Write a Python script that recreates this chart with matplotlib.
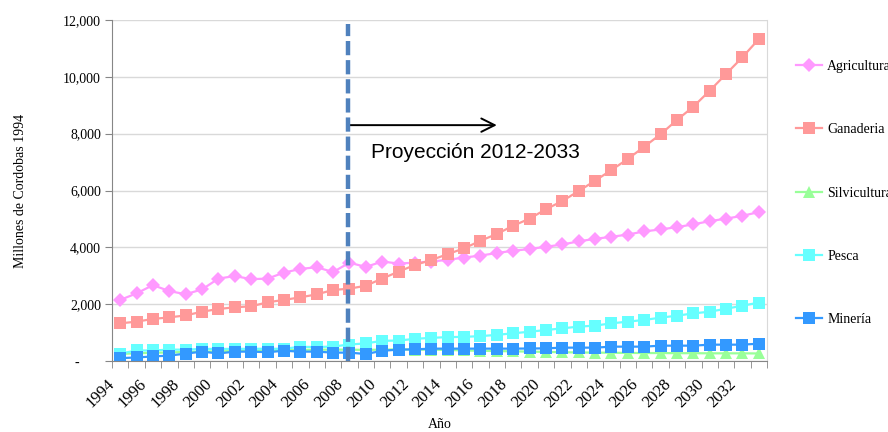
import numpy as np
import matplotlib
matplotlib.use("Agg")
import matplotlib.pyplot as plt
from matplotlib.ticker import FuncFormatter, FixedLocator, NullLocator
from matplotlib.transforms import ScaledTranslation

# data (millones de cordobas 1994)
years = list(range(1994, 2034))

agricultura = [2150, 2380, 2670, 2460, 2350, 2520, 2900, 2990, 2880, 2900,
               3110, 3240, 3300, 3130, 3460, 3310, 3500, 3430, 3460, 3500,
               3560, 3640, 3710, 3800, 3880, 3940, 4020, 4100, 4210, 4300,
               4370, 4450, 4560, 4630, 4710, 4810, 4920, 5010, 5110, 5240]

ganaderia = [1325, 1385, 1480, 1535, 1605, 1735, 1830, 1890, 1925, 2065,
             2150, 2240, 2345, 2500, 2545, 2650, 2900, 3145, 3380, 3555,
             3760, 3965, 4230, 4470, 4760, 5010, 5340, 5630, 5980, 6345,
             6720, 7110, 7540, 7980, 8480, 8950, 9510, 10100, 10690, 11330]

silvicultura = [250, 270, 290, 300, 320, 330, 340, 350, 360, 370,
                380, 390, 400, 400, 400, 390, 400, 410, 400, 400,
                390, 370, 360, 350, 340, 330, 320, 310, 300, 295,
                290, 285, 280, 280, 275, 275, 270, 270, 270, 265]

pesca = [260, 370, 370, 400, 400, 425, 425, 425, 430, 430,
         430, 500, 490, 510, 580, 620, 710, 720, 780, 815,
         840, 850, 875, 920, 975, 1030, 1090, 1150, 1210, 1245,
         1325, 1385, 1445, 1525, 1595, 1675, 1735, 1840, 1945, 2055]

mineria = [100, 125, 160, 190, 260, 330, 265, 330, 330, 310,
           360, 330, 330, 295, 295, 245, 360, 400, 410, 435,
           435, 435, 435, 435, 435, 440, 445, 470, 470, 470,
           505, 505, 505, 540, 540, 540, 575, 575, 575, 610]

series = [
    ("Agricultura", agricultura, "#FF99FF", "D", 7),
    ("Ganaderia", ganaderia, "#FF9999", "s", 8),
    ("Silvicultura", silvicultura, "#99FF99", "^", 8),
    ("Pesca", pesca, "#66FFFF", "s", 8.5),
    ("Minería", mineria, "#3399FF", "s", 8.5),
]

serif = "Liberation Serif"

fig = plt.figure(figsize=(8.88, 4.32), dpi=100)
ax = fig.add_axes([112 / 888, 71 / 432, 655 / 888, 341 / 432])

x = np.arange(len(years))
for name, vals, color, marker, ms in series:
    ax.plot(x, vals, color=color, lw=1.6, marker=marker, markersize=ms,
            markeredgewidth=0, label=name)

# vertical dashed line where the projection starts
split = years.index(2008)
ax.plot([split - 0.1, split - 0.1], [0, 11850], color="#4F81BD", lw=3.2,
        dashes=(3.2, 1.1), solid_capstyle="butt", zorder=5)

# arrow and text
ax.annotate("", xy=(23.0, 8300), xytext=(split, 8300),
            arrowprops=dict(arrowstyle="->", color="black", lw=1.4,
                            mutation_scale=24, shrinkA=0, shrinkB=0))
ax.text(15.3, 7350, "Proyección 2012-2033", fontsize=15,
        family="Liberation Sans", va="center", ha="left")

# axes
ax.set_xlim(-0.5, len(years) - 0.5)
ax.set_ylim(0, 12000)
ax.set_yticks(np.arange(0, 12001, 2000))
ax.yaxis.set_major_formatter(FuncFormatter(
    lambda v, p: "-      " if v == 0 else f"{int(v):,}"))
ax.xaxis.set_major_locator(NullLocator())
ax.xaxis.set_minor_locator(FixedLocator(np.arange(-0.5, len(years), 1)))
ax.tick_params(axis="x", which="minor", length=5, color="#868686",
               direction="out")
ax.tick_params(axis="y", length=5, color="#868686", direction="out",
               labelsize=10, pad=3)
for lab in ax.get_yticklabels():
    lab.set_family(serif)

# year labels every two categories, rotated and set a bit left like the original
offset = ScaledTranslation(-0.14, -0.153, fig.dpi_scale_trans)
for xi, yr in zip(x[::2], years[::2]):
    ax.text(xi, 0, str(yr), transform=ax.get_xaxis_transform() + offset,
            rotation=45, rotation_mode="anchor", ha="right", va="top",
            family=serif, fontsize=12)

ax.grid(axis="y", color="#D9D9D9", lw=1)
ax.set_axisbelow(True)
ax.spines["top"].set_visible(False)
ax.spines["right"].set_color("#D9D9D9")
ax.spines["left"].set_color("#868686")
ax.spines["bottom"].set_color("#868686")

ax.text(0.5, -0.166, "Año", transform=ax.transAxes, ha="center", va="top",
        family=serif, fontsize=10)
ax.set_ylabel("Millones de Cordobas 1994", family=serif, fontsize=10,
              labelpad=26)

fig.legend(loc="upper left", bbox_to_anchor=(796 / 888, 372 / 432),
           frameon=False, borderpad=0, borderaxespad=0, labelspacing=3.62,
           handlelength=1.9, handletextpad=0.35,
           prop={"family": serif, "size": 10})

plt.savefig("out.png", dpi=100)
